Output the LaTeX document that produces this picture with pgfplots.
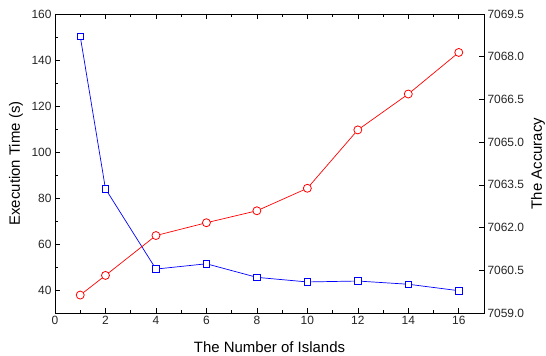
\documentclass[border=0pt]{standalone}
\usepackage{pgfplots}
\pgfplotsset{compat=1.18}
\usepackage{fontspec}
\setmainfont{Liberation Sans}
\begin{document}
\begin{tikzpicture}
\useasboundingbox (-55bp,-43bp) rectangle (491bp,313bp);
\pgfplotsset{
  common/.style={
    scale only axis, width=429bp, height=299bp,
    xmin=0, xmax=17,
    tick align=inside,
    major tick length=5bp, minor tick length=3bp,
    every tick/.style={black, line width=0.6pt},
    axis line style={black, line width=0.8pt},
    tick label style={font=\fontsize{12}{14}\selectfont, text=black!85},
    label style={font=\fontsize{15}{17}\selectfont},
    /pgf/number format/assume math mode=true,
  }
}
\begin{axis}[common,
  ymin=30, ymax=160,
  xtick={0,2,...,16}, minor x tick num=1,
  ytick={40,60,...,160}, minor y tick num=1,
  ytick pos=left, xtick pos=both,
  xlabel={The Number of Islands},
  ylabel={Execution Time (s)},
  x label style={at={(axis description cs:0.5,-0.1137)}, anchor=center},
  y label style={at={(axis description cs:-0.0909,0.5)}, anchor=center},
]
\addplot[blue, line width=0.7pt, mark=square*, mark size=3.3bp,
  mark options={fill=white, solid, line width=0.8pt}]
  coordinates {(1,150.3) (2,84.0) (4,49.1) (6,51.4) (8,45.5) (10,43.5) (12,43.9) (14,42.5) (16,39.7)};
\end{axis}
\begin{axis}[common,
  ymin=7059.0, ymax=7069.5,
  axis x line=none,
  axis y line*=right,
  ytick={7059.0,7060.5,...,7069.5}, minor y tick num=1,
  yticklabel style={/pgf/number format/.cd, fixed, fixed zerofill, precision=1, 1000 sep={}},
  ylabel={The Accuracy},
  y label style={at={(axis description cs:1.1259,0.5)}, anchor=center},
]
\addplot[red, line width=0.7pt, mark=*, mark size=4bp,
  mark options={fill=white, solid, line width=0.8pt}]
  coordinates {(1,7059.63) (2,7060.32) (4,7061.72) (6,7062.17) (8,7062.59) (10,7063.38) (12,7065.43) (14,7066.69) (16,7068.15)};
\end{axis}
\end{tikzpicture}
\end{document}
